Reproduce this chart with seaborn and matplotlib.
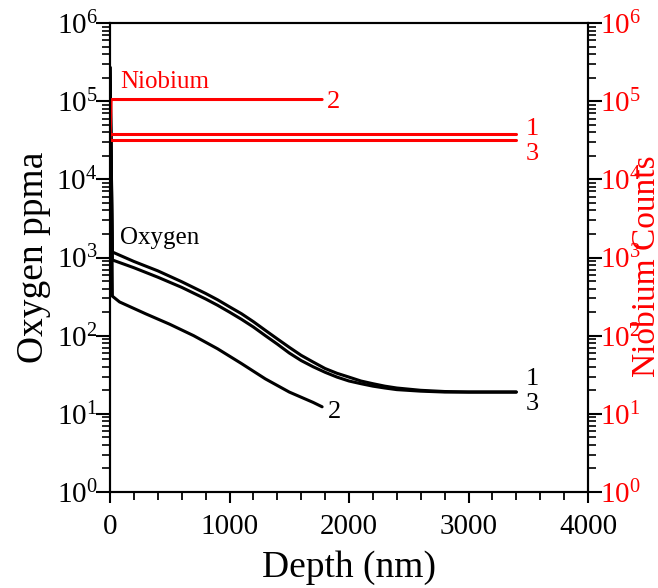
import numpy as np
import pandas as pd
import matplotlib
matplotlib.use("Agg")
import matplotlib.pyplot as plt
import seaborn as sns
from matplotlib.ticker import LogLocator, LogFormatterSciNotation, NullFormatter, MultipleLocator

# ---------------- data ----------------
depth_O1 = [0, 10, 20, 200, 400, 600, 800, 900, 1000, 1100, 1200, 1300, 1400, 1500, 1600, 1700, 1800, 1900,
            2000, 2100, 2200, 2300, 2400, 2600, 2800, 3000, 3200, 3400]
oxygen_1 = [2.7e5, 2e4, 1175, 890, 675, 490, 347, 288, 234, 191, 151, 117, 91, 71, 56, 46, 38, 33,
            29.5, 26.3, 24.3, 22.6, 21.4, 20, 19.3, 19, 19, 19]

depth_O3 = [0, 10, 20, 200, 400, 600, 800, 900, 1000, 1100, 1200, 1300, 1400, 1500, 1600, 1700, 1800, 1900,
            2000, 2100, 2200, 2300, 2400, 2600, 2800, 3000, 3200, 3400]
oxygen_3 = [2.7e5, 2e4, 930, 740, 560, 415, 295, 245, 200, 162, 129, 100, 78, 60, 48, 40, 34, 29.5,
            26.3, 24.3, 22.6, 21.4, 20.4, 19.5, 19, 19, 19, 19]

depth_O2 = [0, 10, 20, 80, 300, 500, 700, 900, 1100, 1300, 1500, 1700, 1775]
oxygen_2 = [2.7e5, 2e4, 320, 270, 190, 140, 100, 68, 44, 28, 19, 14, 12.3]

depth_Nb1 = [0, 3400]
niobium_1 = [37500, 37500]
depth_Nb3 = [0, 3400]
niobium_3 = [31400, 31400]
depth_Nb2 = [0, 10, 1775]
niobium_2 = [31400, 1.05e5, 1.05e5]

x_ticks = [0, 1000, 2000, 3000, 4000]

# ---------------- style ----------------
sns.set_theme(style="ticks")
plt.rcParams["font.family"] = ["Liberation Serif", "DejaVu Serif"]
plt.rcParams["mathtext.fontset"] = "custom"
plt.rcParams["mathtext.rm"] = "Liberation Serif"
plt.rcParams["mathtext.it"] = "Liberation Serif:italic"
plt.rcParams["mathtext.bf"] = "Liberation Serif:bold"
plt.rcParams["axes.edgecolor"] = "black"
plt.rcParams["axes.labelcolor"] = "black"
plt.rcParams["text.color"] = "black"
plt.rcParams["xtick.color"] = "black"
plt.rcParams["ytick.color"] = "black"
plt.rcParams["axes.linewidth"] = 1.5

RED = "#ff0000"

fig = plt.figure(figsize=(6.58, 5.88), dpi=100)
ax = fig.add_axes([110 / 658, 1 - 492 / 588, 478 / 658, 469 / 588])
ax2 = ax.twinx()

lw = 2.2
sns.lineplot(x=depth_O1, y=oxygen_1, ax=ax, color="black", linewidth=lw, estimator=None, sort=False)
sns.lineplot(x=depth_O3, y=oxygen_3, ax=ax, color="black", linewidth=lw, estimator=None, sort=False)
sns.lineplot(x=depth_O2, y=oxygen_2, ax=ax, color="black", linewidth=lw, estimator=None, sort=False)

sns.lineplot(x=depth_Nb1, y=niobium_1, ax=ax2, color=RED, linewidth=lw, estimator=None, sort=False)
sns.lineplot(x=depth_Nb3, y=niobium_3, ax=ax2, color=RED, linewidth=lw, estimator=None, sort=False)
sns.lineplot(x=depth_Nb2, y=niobium_2, ax=ax2, color=RED, linewidth=lw, estimator=None, sort=False)

for a in (ax, ax2):
    a.set_yscale("log")
    a.set_ylim(1, 1e6)
    a.yaxis.set_major_locator(LogLocator(base=10, numticks=10))
    a.yaxis.set_minor_locator(LogLocator(base=10, subs=np.arange(2, 10), numticks=20))
    a.yaxis.set_major_formatter(LogFormatterSciNotation())
    a.yaxis.set_minor_formatter(NullFormatter())

ax.set_xlim(0, 4000)
ax.set_xticks(x_ticks)
ax.set_xticklabels([str(v) for v in x_ticks])
ax.xaxis.set_minor_locator(MultipleLocator(200))

ax.tick_params(axis="x", which="major", direction="out", length=8, width=1.5, labelsize=21, pad=8,
               color="black", labelcolor="black")
ax.tick_params(axis="x", which="minor", direction="out", length=6, width=1.3, color="black")
ax.tick_params(axis="y", which="major", direction="out", length=10, width=1.5, labelsize=21, pad=-1,
               color="black", labelcolor="black")
ax.tick_params(axis="y", which="minor", direction="out", length=6, width=1.2, color="black")
ax.tick_params(top=False, right=False, which="both")

ax2.tick_params(axis="y", which="major", direction="out", length=10, width=1.5, labelsize=21, pad=-1,
                color="black", labelcolor=RED)
ax2.tick_params(axis="y", which="minor", direction="out", length=6, width=1.2, color="black")

for s in ax2.spines.values():
    s.set_color("black")
    s.set_linewidth(1.5)

ax.set_xlabel("Depth (nm)", fontsize=27, labelpad=7, color="black")
ax.set_ylabel("Oxygen ppma", fontsize=27, labelpad=4, color="black")
ax2.set_ylabel("Niobium Counts", fontsize=24, color=RED)
ax2.yaxis.set_label_coords(1.123, 0.482)
ax2.yaxis.label.set_verticalalignment("center")
ax2.yaxis.label.set_horizontalalignment("center")
ax2.yaxis.label.set_rotation(90)

# annotations
ax.text(83, 1.48e5, "Niobium", color=RED, fontsize=18, va="baseline", ha="left")
ax.text(83, 1480, "Oxygen", color="black", fontsize=18, va="baseline", ha="left")

nfs = 19
ax.text(1817, 8.2e4, "2", color=RED, fontsize=nfs, va="baseline")
ax.text(3475, 3.7e4, "1", color=RED, fontsize=nfs, va="baseline")
ax.text(3475, 1.77e4, "3", color=RED, fontsize=nfs, va="baseline")
ax.text(3475, 23.5, "1", color="black", fontsize=nfs, va="baseline")
ax.text(3475, 11.2, "3", color="black", fontsize=nfs, va="baseline")
ax.text(1825, 8.9, "2", color="black", fontsize=nfs, va="baseline")

fig.savefig("out.png", dpi=100)
